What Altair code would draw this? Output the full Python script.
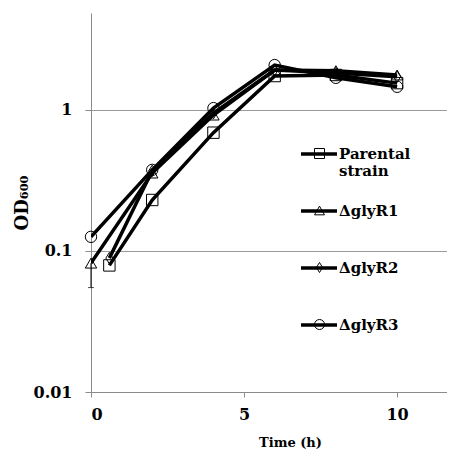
import altair as alt
import pandas as pd

strains = ["Parental strain", "ΔglyR1", "ΔglyR2", "ΔglyR3"]
times_parental = [0.6, 2, 4, 6, 8, 10]
od_parental = [0.079, 0.23, 0.69, 1.74, 1.77, 1.55]
times_r1 = [0, 2, 4, 6, 8, 10]
od_r1 = [0.082, 0.357, 0.92, 1.92, 1.9, 1.77]
times_r2 = [0.6, 2, 4, 6, 8, 10]
od_r2 = [0.089, 0.37, 0.95, 1.92, 1.83, 1.72]
times_r3 = [0, 2, 4, 6, 8, 10]
od_r3 = [0.126, 0.376, 1.03, 2.08, 1.69, 1.46]

err_strain = ["ΔglyR1"]
err_time = [0]
err_mid = [0.082]
err_low = [0.055]

x_ticks = [0, 5, 10]
y_ticks = [0.01, 0.1, 1]

rows = []
for s, ts, vs in zip(strains, [times_parental, times_r1, times_r2, times_r3],
                     [od_parental, od_r1, od_r2, od_r3]):
    for t, v in zip(ts, vs):
        rows.append({"strain": s, "strain_l": s, "time": t, "od": v})
df = pd.DataFrame(rows)
err_df = pd.DataFrame({"strain": err_strain, "time": err_time, "mid": err_mid, "low": err_low})

FONT = "DejaVu Serif"
label_expr = "datum.label == 'Parental strain' ? ['Parental', 'strain'] : [datum.label, ' ']"
diamond_path = "M0,-1L0.62,0L0,1L-0.62,0Z"
LEG_X = 220
LEG_Y = 133
ROW_PAD = 24

xs = alt.Scale(domain=[0, 11.63], nice=False, zero=False)
ys = alt.Scale(type="log", domain=[0.01, 4.87], nice=False)

x_enc = alt.X("time:Q", scale=xs, axis=alt.Axis(
    values=x_ticks, title="Time (h)", grid=False, tickSize=5, labelPadding=9,
    titlePadding=14, titleX=199, titleAlign="center", titleAnchor="start"))
y_enc = alt.Y("od:Q", scale=ys, axis=alt.Axis(
    values=y_ticks, format="~g", title="OD₆₀₀", grid=True, tickSize=6,
    labelPadding=13, titlePadding=2))

lines = alt.Chart(df).mark_line(strokeWidth=3.5, clip=True).encode(
    x=x_enc, y=y_enc,
    color=alt.Color("strain_l:N", scale=alt.Scale(domain=strains, range=["black"] * 4),
                    legend=alt.Legend(
                        title=None, orient="none", legendX=LEG_X, legendY=LEG_Y,
                        symbolType="M-3,0H3", symbolSize=144, symbolStrokeWidth=3.5,
                        symbolStrokeColor="black", symbolFillColor="transparent",
                        labelExpr=label_expr, labelFont=FONT, labelFontSize=15,
                        labelFontWeight="bold", labelColor="black", labelOffset=12,
                        labelLimit=200, rowPadding=ROW_PAD, padding=0)),
)

points = alt.Chart(df).mark_point(filled=False, size=130, strokeWidth=1, color="black",
                                  opacity=1).encode(
    x="time:Q", y="od:Q",
    shape=alt.Shape("strain:N", scale=alt.Scale(
        domain=strains, range=["square", "triangle-up", diamond_path, "circle"]),
        legend=alt.Legend(
            title=None, orient="none", legendX=LEG_X + 1, legendY=LEG_Y,
            symbolSize=100, symbolStrokeWidth=1, symbolStrokeColor="black",
            symbolFillColor="transparent",
            labelExpr=label_expr, labelFont=FONT, labelFontSize=15,
            labelFontWeight="bold", labelOpacity=0, labelOffset=12,
            labelLimit=200, rowPadding=ROW_PAD, padding=0)),
)

err_rule = alt.Chart(err_df).mark_rule(color="black", strokeWidth=1).encode(
    x="time:Q", y="mid:Q", y2="low:Q")
err_cap = alt.Chart(err_df).mark_tick(color="black", orient="horizontal", size=6,
                                      thickness=1).encode(x="time:Q", y="low:Q")

chart = alt.layer(err_rule, err_cap, lines, points).resolve_legend(
    color="independent", shape="independent"
).properties(
    width=356, height=379,
    padding={"left": 5, "top": 5, "right": 0, "bottom": 5},
).configure_view(stroke=None).configure_axis(
    labelFont=FONT, labelFontSize=16, labelFontWeight="bold", labelColor="black",
    titleFont=FONT, titleColor="black", titleFontWeight="bold",
    domainColor="#8a8a8a", tickColor="#8a8a8a", gridColor="#9a9a9a", gridWidth=1,
).configure_axisX(titleFontSize=13).configure_axisY(titleFontSize=18)

chart.save("out.html", embed_options={"renderer": "svg", "actions": False})
